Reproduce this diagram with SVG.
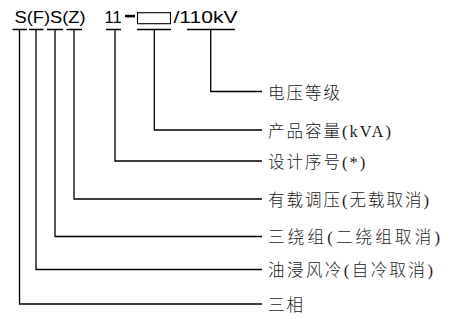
<svg xmlns="http://www.w3.org/2000/svg" width="453" height="319" viewBox="0 0 453 319">
<style>
.code{font-family:"Liberation Sans",Arial,sans-serif;font-size:16px;fill:#000}
.lbl{font-family:"Liberation Serif","Noto Sans CJK SC",serif;font-size:16.5px;font-weight:300;letter-spacing:2px;fill:#1a1a1a}
.ln{fill:none;stroke:#000;stroke-width:1.3}
</style>
<rect width="453" height="319" fill="#fff"/>
<g id="code">
<text class="code" x="14.5" y="23" textLength="71" lengthAdjust="spacingAndGlyphs">S(F)S(Z)</text>
<text class="code" x="104.5" y="23" textLength="17" lengthAdjust="spacingAndGlyphs">11</text>
<rect x="125" y="14.8" width="10" height="2.6" fill="#000"/>
<rect x="137.5" y="12.7" width="33" height="11" fill="none" stroke="#000" stroke-width="1.1"/>
<text class="code" x="173.5" y="23" textLength="64" lengthAdjust="spacingAndGlyphs">/110kV</text>
</g>
<g id="connectors" class="ln">
<path d="M12.5 29.5H27M19.5 29.5V304H262"/>
<path d="M29 29.5H43.5M36 29.5V269.5H262"/>
<path d="M47 29.5H63M55 29.5V236.5H262"/>
<path d="M66.5 29.5H82M74 29.5V199H262"/>
<path d="M106 29.5H121M115 29.5V161H262"/>
<path d="M137 29.5H171M154.3 29.5V130H262"/>
<path d="M187 29.5H235M210.7 29.5V91.5H262"/>
</g>
<g id="n-voltage"><text class="lbl" x="268" y="98.5">电压等级</text></g>
<g id="n-capacity"><text class="lbl" x="268" y="136.5">产品容量(kVA)</text></g>
<g id="n-design"><text class="lbl" x="268" y="167.5">设计序号(*)</text></g>
<g id="n-onload"><text class="lbl" x="268" y="205.5">有载调压(无载取消)</text></g>
<g id="n-three-winding"><text class="lbl" x="268" y="243" textLength="174" lengthAdjust="spacing">三绕组(二绕组取消)</text></g>
<g id="n-oil"><text class="lbl" x="268" y="276" textLength="167" lengthAdjust="spacing">油浸风冷(自冷取消)</text></g>
<g id="n-phase"><text class="lbl" x="268" y="310.5">三相</text></g>
</svg>
